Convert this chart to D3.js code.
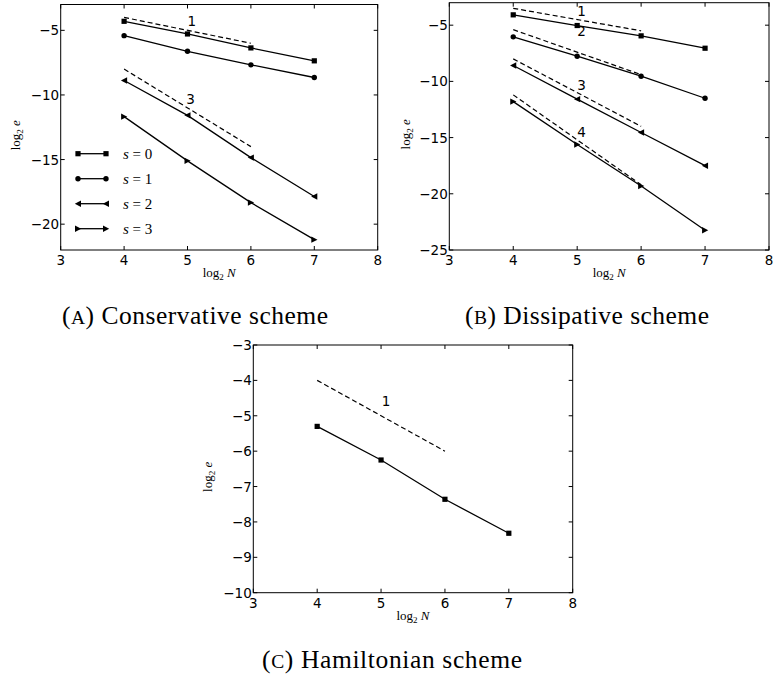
<!DOCTYPE html>
<html><head><meta charset="utf-8">
<script src="https://cdn.jsdelivr.net/npm/d3@7"></script>
<style>body{margin:0;background:#fff}svg{display:block}</style>
</head><body><svg id="c" width="773" height="679"></svg>
<script>
// ---- data ----
const logN = [4, 5, 6, 7];
const xTicks = [3, 4, 5, 6, 7, 8];
// Panel A: conservative scheme
const consS0 = [-4.3, -5.28, -6.36, -7.36];
const consS1 = [-5.41, -6.62, -7.67, -8.65];
const consS2 = [-8.88, -11.58, -14.85, -17.86];
const consS3 = [-11.68, -15.1, -18.33, -21.2];
const consRefs = [{x: [4, 6], y: [-4, -6], label: "1", lx: 5.0, ly: -4.65},
                  {x: [4, 6], y: [-8, -14], label: "3", lx: 4.98, ly: -10.7}];
const consYTicks = [-5, -10, -15, -20];
// Panel B: dissipative scheme
const dissS0 = [-4.08, -5.03, -5.95, -7.05];
const dissS1 = [-6.04, -7.76, -9.54, -11.5];
const dissS2 = [-8.59, -11.58, -14.55, -17.5];
const dissS3 = [-11.8, -15.62, -19.3, -23.24];
const dissRefs = [{x: [4, 6], y: [-3.5, -5.5], label: "1", lx: 5.0, ly: -4.2},
                  {x: [4, 6], y: [-5.4, -9.4], label: "2", lx: 5.0, ly: -6.0},
                  {x: [4, 6], y: [-8, -14], label: "3", lx: 5.0, ly: -10.75},
                  {x: [4, 6], y: [-11.2, -19.2], label: "4", lx: 5.0, ly: -14.95}];
const dissYTicks = [-5, -10, -15, -20, -25];
// Panel C: Hamiltonian scheme
const hamS0 = [-5.3, -6.25, -7.36, -8.32];
const hamRefs = [{x: [4, 6], y: [-4, -6], label: "1", lx: 5.01, ly: -4.72}];
const hamYTicks = [-3, -4, -5, -6, -7, -8, -9, -10];
const legendLabels = ["0", "1", "2", "3"];
const markerTypes = ["square", "circle", "tleft", "tright"];
const captions = [["(", "A", ") Conservative scheme"], ["(", "B", ") Dissipative scheme"], ["(", "C", ") Hamiltonian scheme"]];

const svg = d3.select("#c");

function marker(g, type, x, y) {
  if (type === "square") g.append("rect").attr("x", x - 2.6).attr("y", y - 2.6).attr("width", 5.2).attr("height", 5.2).attr("fill", "#000");
  else if (type === "circle") g.append("circle").attr("cx", x).attr("cy", y).attr("r", 2.7).attr("fill", "#000");
  else if (type === "tleft") g.append("path").attr("d", `M${x-3.2},${y}L${x+3},${y-3.2}L${x+3},${y+3.2}Z`).attr("fill", "#000");
  else g.append("path").attr("d", `M${x+3.2},${y}L${x-3},${y-3.2}L${x-3},${y+3.2}Z`).attr("fill", "#000");
}

function panel(o) {
  const x = d3.scaleLinear().domain([3, 8]).range([o.x0, o.x1]);
  const y = d3.scaleLinear().domain(o.yd).range([o.y1, o.y0]);
  const g = svg.append("g");
  o.refs.forEach(r => {
    g.append("line").attr("x1", x(r.x[0])).attr("y1", y(r.y[0])).attr("x2", x(r.x[1])).attr("y2", y(r.y[1]))
      .attr("stroke", "#000").attr("stroke-width", 1.2).attr("stroke-dasharray", "5,3");
    g.append("text").attr("x", x(r.lx)).attr("y", y(r.ly)).text(r.label)
      .attr("font-family", "DejaVu Sans").attr("font-size", 13.5);
  });
  const line = d3.line().x((d, i) => x(logN[i])).y(d => y(d));
  o.series.forEach((s, k) => {
    g.append("path").attr("d", line(s)).attr("fill", "none").attr("stroke", "#000").attr("stroke-width", 1.3);
    s.forEach((v, i) => marker(g, markerTypes[k], x(logN[i]), y(v)));
  });
  g.append("rect").attr("x", o.x0).attr("y", o.y0).attr("width", o.x1 - o.x0).attr("height", o.y1 - o.y0)
    .attr("fill", "none").attr("stroke", "#000").attr("stroke-width", 1);
  const tl = 4;
  xTicks.forEach(t => {
    g.append("line").attr("x1", x(t)).attr("x2", x(t)).attr("y1", o.y1).attr("y2", o.y1 - tl).attr("stroke", "#000");
    g.append("line").attr("x1", x(t)).attr("x2", x(t)).attr("y1", o.y0).attr("y2", o.y0 + tl).attr("stroke", "#000");
    g.append("text").attr("x", x(t)).attr("y", o.y1 + 15).attr("text-anchor", "middle")
      .attr("font-family", "DejaVu Sans").attr("font-size", 13.5).text(d3.format("d")(t));
  });
  o.yt.forEach(t => {
    g.append("line").attr("x1", o.x0).attr("x2", o.x0 + tl).attr("y1", y(t)).attr("y2", y(t)).attr("stroke", "#000");
    g.append("line").attr("x1", o.x1).attr("x2", o.x1 - tl).attr("y1", y(t)).attr("y2", y(t)).attr("stroke", "#000");
    g.append("text").attr("x", o.x0 - 1.5).attr("y", y(t) + 5).attr("text-anchor", "end")
      .attr("font-family", "DejaVu Sans").attr("font-size", 13.5).text(d3.format("d")(t));
  });
  const xl = g.append("text").attr("x", (o.x0 + o.x1) / 2).attr("y", o.y1 + 27).attr("text-anchor", "middle")
    .attr("font-family", "Liberation Serif").attr("font-size", 13);
  xl.append("tspan").text("log");
  xl.append("tspan").attr("font-size", 9).attr("dy", 3).text("2");
  xl.append("tspan").attr("dy", -3).attr("font-style", "italic").text(" N");
  const yl = g.append("text").attr("transform", `translate(${o.ylx},${(o.y0 + o.y1) / 2 + 8}) rotate(-90)`)
    .attr("text-anchor", "middle").attr("font-family", "Liberation Serif").attr("font-size", 13);
  yl.append("tspan").text("log");
  yl.append("tspan").attr("font-size", 9).attr("dy", 3).text("2");
  yl.append("tspan").attr("dy", -3).attr("font-style", "italic").text(" e");
  const cap = svg.append("text").attr("x", o.cx).attr("y", o.cy).attr("text-anchor", "middle")
    .attr("font-family", "Liberation Serif").attr("font-size", 25.5)
    .attr("textLength", o.cw).attr("lengthAdjust", "spacing");
  cap.append("tspan").text(o.cap[0]);
  cap.append("tspan").attr("font-size", 19.5).text(o.cap[1]);
  cap.append("tspan").text(o.cap[2]);
  return {g, x, y};
}

const A = panel({x0: 60.7, x1: 377.7, y0: 4.5, y1: 250, yd: [-22, -3], yt: consYTicks,
  series: [consS0, consS1, consS2, consS3], refs: consRefs, ylx: 20, cx: 195, cy: 324, cw: 266, cap: captions[0]});
panel({x0: 449.3, x1: 769, y0: 2.7, y1: 250, yd: [-25, -3], yt: dissYTicks,
  series: [dissS0, dissS1, dissS2, dissS3], refs: dissRefs, ylx: 410, cx: 587, cy: 324, cw: 244, cap: captions[1]});
panel({x0: 253.3, x1: 572.7, y0: 345, y1: 592.7, yd: [-10, -3], yt: hamYTicks,
  series: [hamS0], refs: hamRefs, ylx: 212, cx: 392, cy: 668, cw: 260, cap: captions[2]});

legendLabels.forEach((lab, k) => {
  const ly = 153.7 + k * 25;
  A.g.append("line").attr("x1", 78).attr("x2", 106).attr("y1", ly).attr("y2", ly).attr("stroke", "#000").attr("stroke-width", 1.3);
  marker(A.g, markerTypes[k], 78, ly);
  marker(A.g, markerTypes[k], 106, ly);
  const t = A.g.append("text").attr("x", 123).attr("y", ly + 5).attr("font-family", "Liberation Serif").attr("font-size", 15);
  t.append("tspan").attr("font-style", "italic").text("s");
  t.append("tspan").text(" = " + lab);
});
</script></body></html>
